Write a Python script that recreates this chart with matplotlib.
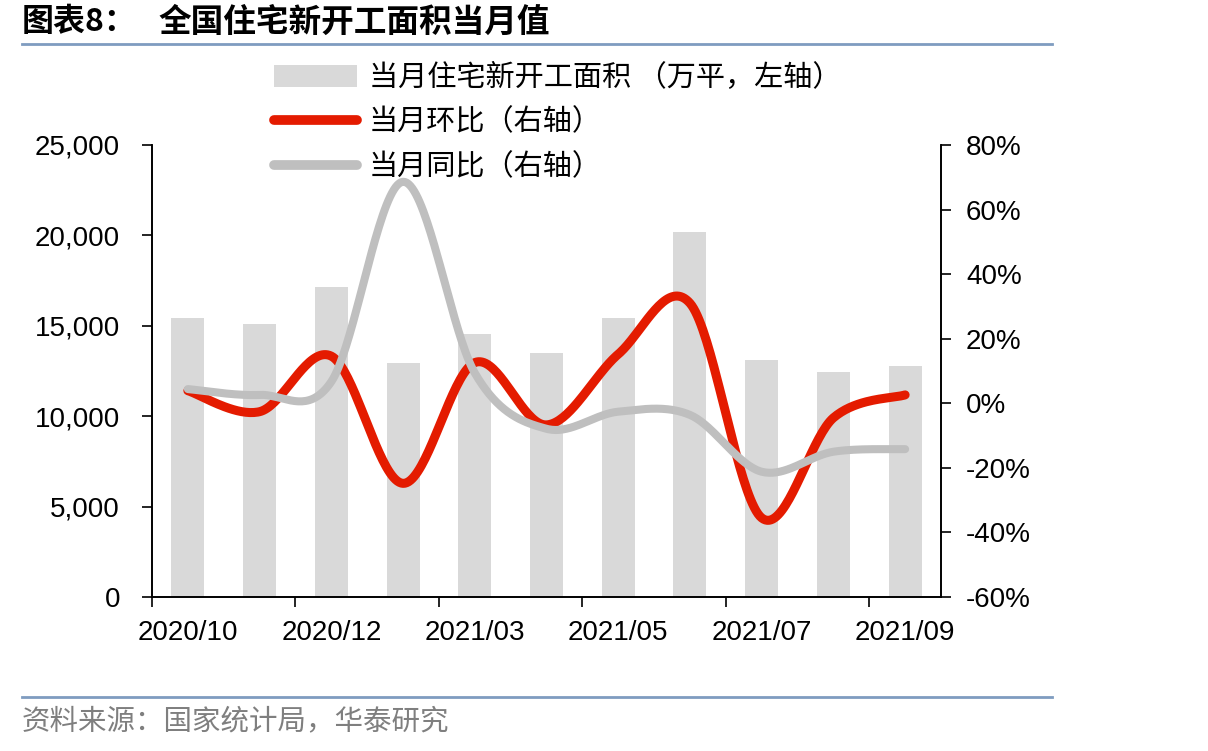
import numpy as np
import matplotlib as mpl
import matplotlib.pyplot as plt
from matplotlib.lines import Line2D
from matplotlib.patches import Patch
from matplotlib.ticker import FuncFormatter, MultipleLocator

mpl.use('Agg')

plt.rcParams['font.family'] = ['Liberation Sans', 'Noto Sans CJK SC', 'DejaVu Sans']

CJK = ['Noto Sans CJK SC', 'DejaVu Sans']

months = ['2020/10', '2020/11', '2020/12', '2021/02', '2021/03', '2021/04',
          '2021/05', '2021/06', '2021/07', '2021/08', '2021/09']
# 当月住宅新开工面积 (万平)
area = [15450, 15080, 17160, 12930, 14530, 13480, 15410, 20200, 13110, 12460, 12780]
# 当月环比 (%)
mom = [3.9, -2.6, 14.6, -24.8, 12.6, -6.7, 15.2, 31.0, -35.5, -4.5, 2.6]
# 当月同比 (%)
yoy = [4.4, 2.6, 6.7, 68.6, 9.4, -7.9, -2.6, -3.6, -21.2, -15.0, -14.2]

labels = ['当月住宅新开工面积 （万平，左轴）', '当月环比（右轴）', '当月同比（右轴）']

BAR_C = '#D9D9D9'
RED = '#E41B00'
GRAY = '#BFBFBF'
RULE = '#7F9CC0'


def smooth(x, y, n=40):
    """Excel-like smoothed line through the points (Bezier / Catmull-Rom)."""
    pts = np.column_stack([x, y]).astype(float)
    p = np.vstack([pts[0], pts, pts[-1]])
    out = []
    t = np.linspace(0, 1, n)[:, None]
    for i in range(1, len(p) - 2):
        p0, p1, p2, p3 = p[i - 1], p[i], p[i + 1], p[i + 2]
        c1 = p1 + (p2 - p0) / 6.0
        c2 = p2 - (p3 - p1) / 6.0
        seg = ((1 - t) ** 3) * p1 + 3 * ((1 - t) ** 2) * t * c1 + 3 * (1 - t) * t ** 2 * c2 + t ** 3 * p2
        out.append(seg if i == 1 else seg[1:])
    out = np.vstack(out)
    return out[:, 0], out[:, 1]


def main():
    fig = plt.figure(figsize=(12.08, 7.51), dpi=100)
    ax = fig.add_axes([152 / 1208, 1 - 597 / 751, (941 - 152) / 1208, (597 - 145) / 751])
    ax2 = ax.twinx()

    x = np.arange(len(months))
    ax.bar(x, area, width=0.46, color=BAR_C, zorder=1)
    ax.set_xlim(-0.5, len(months) - 0.5)
    ax.set_ylim(0, 25000)
    ax.yaxis.set_major_locator(MultipleLocator(5000))
    ax.yaxis.set_major_formatter(FuncFormatter(lambda v, _: '{:,.0f}'.format(v)))

    # ticks at category boundaries, labels under every other bar
    ax.set_xticks(np.arange(-0.5, len(months), 2))
    ax.set_xticklabels([])
    ax.set_xticks(x[::2], minor=True)
    ax.set_xticklabels([months[i] for i in x[::2]], minor=True)
    ax.tick_params(axis='x', which='minor', length=0, pad=16.5, labelsize=20)
    ax.tick_params(axis='x', which='major', length=7, width=1.2, direction='out')
    ax.tick_params(axis='y', length=7, width=1.2, labelsize=20, pad=16)

    sx, sy = smooth(x, mom)
    ax2.plot(sx, sy, color=RED, lw=6.5, solid_capstyle='round', solid_joinstyle='round')
    gx, gy = smooth(x, yoy)
    ax2.plot(gx, gy, color=GRAY, lw=5.8, solid_capstyle='round', solid_joinstyle='round')
    ax2.set_ylim(-60, 80)
    ax2.yaxis.set_major_locator(MultipleLocator(20))
    ax2.yaxis.set_major_formatter(FuncFormatter(lambda v, _: '{:.0f}%'.format(v)))
    ax2.tick_params(axis='y', length=7, width=1.2, labelsize=20, pad=11)

    for a in (ax, ax2):
        a.spines['top'].set_visible(False)
        for s in ('left', 'right', 'bottom'):
            a.spines[s].set_linewidth(1.2)

    handles = [
        Patch(facecolor=BAR_C, edgecolor='none'),
        Line2D([], [], color=RED, lw=7, solid_capstyle='round'),
        Line2D([], [], color=GRAY, lw=7, solid_capstyle='round'),
    ]
    fig.legend(handles, labels, loc='upper left', bbox_to_anchor=(274 / 1208, 1 - 63 / 751),
               frameon=False, prop={'family': CJK, 'size': 21}, handlelength=2.85,
               handleheight=0.75, handletextpad=0.4, labelspacing=0.5, borderpad=0,
               borderaxespad=0)

    fig.text(22 / 1208, 1 - 22 / 751, '图表8：', family=CJK,
             fontsize=23, fontweight='bold', va='center', ha='left')
    fig.text(158 / 1208, 1 - 22 / 751, '全国住宅新开工面积当月值', family=CJK,
             fontsize=23.5, fontweight='bold', va='center', ha='left')
    fig.add_artist(Line2D([22 / 1208, 1052 / 1208], [1 - 44 / 751] * 2, color=RULE, lw=2))
    fig.add_artist(Line2D([22 / 1208, 1052 / 1208], [1 - 697 / 751] * 2, color=RULE, lw=2))
    fig.text(22 / 1208, 1 - 721 / 751, '资料来源：国家统计局，华泰研究', family=CJK,
             fontsize=20.5, color='#7F7F7F', va='center', ha='left')

    fig.savefig('out.png', dpi=100)
    plt.close(fig)


if __name__ == '__main__':
    main()
